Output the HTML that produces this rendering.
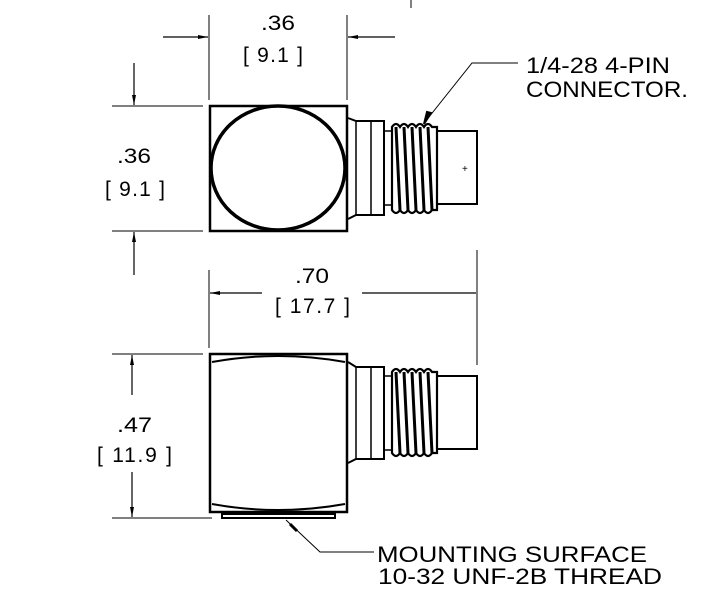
<!DOCTYPE html>
<html><head><style>body{margin:0;background:#fff}</style></head><body>
<svg width="701" height="600" viewBox="0 0 701 600" xmlns="http://www.w3.org/2000/svg" font-family="Liberation Sans, sans-serif">
<defs><marker id="a" markerWidth="10" markerHeight="6" refX="10" refY="3" orient="auto" markerUnits="userSpaceOnUse"><path d="M0,1 L10,3 L0,5z" fill="#000"/></marker></defs>
<g stroke="#000" fill="none">
<line x1="411" y1="0" x2="411" y2="8" stroke-width="1"/>
<line x1="209" y1="15" x2="209" y2="100" stroke-width="1"/>
<line x1="347" y1="15" x2="347" y2="100" stroke-width="1"/>
<line x1="163" y1="37" x2="208" y2="37" stroke-width="1.2" marker-end="url(#a)"/>
<line x1="395" y1="37" x2="348" y2="37" stroke-width="1.2" marker-end="url(#a)"/>
<line x1="112" y1="106" x2="203" y2="106" stroke-width="1"/>
<line x1="112" y1="231" x2="203" y2="231" stroke-width="1"/>
<line x1="134" y1="63" x2="134" y2="105" stroke-width="1.2" marker-end="url(#a)"/>
<line x1="134" y1="275" x2="134" y2="232" stroke-width="1.2" marker-end="url(#a)"/>
<rect x="210" y="106" width="137" height="125" stroke-width="2.5"/>
<ellipse cx="278" cy="168" rx="67" ry="62" stroke-width="3.5"/>
<path d="M348,118 L356,121 L384,121 L384,215 L356,215 L348,219" stroke-width="2"/>
<line x1="356" y1="121" x2="356" y2="215" stroke-width="1.5"/>
<line x1="371" y1="121" x2="371" y2="215" stroke-width="1.5"/>
<rect x="384" y="131" width="8" height="74" stroke-width="1.5"/>
<rect x="437" y="131" width="40" height="73" stroke-width="2"/>
<text x="462" y="172" font-size="10" fill="#000" stroke="none">+</text>
<line x1="209" y1="270" x2="209" y2="348" stroke-width="1"/>
<line x1="477" y1="250" x2="477" y2="365" stroke-width="1"/>
<line x1="262" y1="293" x2="210" y2="293" stroke-width="1.2" marker-end="url(#a)"/>
<line x1="362" y1="293" x2="476" y2="293" stroke-width="1.2"/>
<line x1="112" y1="354" x2="203" y2="354" stroke-width="1"/>
<line x1="112" y1="518" x2="212" y2="518" stroke-width="1"/>
<line x1="132" y1="395" x2="132" y2="355" stroke-width="1.2" marker-end="url(#a)"/>
<line x1="132" y1="472" x2="132" y2="517" stroke-width="1.2" marker-end="url(#a)"/>
<rect x="210" y="354" width="137" height="158" stroke-width="2.5"/>
<path d="M212,362 Q278,350 345,362 M212,504 Q278,516 345,504" stroke-width="2"/>
<rect x="222" y="514" width="113" height="4" stroke-width="2"/>
<path d="M348,362 L356,367 L384,367 L384,459 L356,459 L348,463" stroke-width="2"/>
<line x1="356" y1="367" x2="356" y2="459" stroke-width="1.5"/>
<line x1="371" y1="367" x2="371" y2="459" stroke-width="1.5"/>
<rect x="384" y="376" width="8" height="74" stroke-width="1.5"/>
<rect x="437" y="376" width="40" height="73" stroke-width="2"/>
<polyline points="518,63 472,63 425,122" stroke-width="1" />
<path d="M431,113 L424,124 L427,112z" fill="#000" stroke-width="2"/>
<polyline points="374,552 320,552 286,520" stroke-width="1"/>
<path d="M290,524 L297,531" stroke-width="3"/>
</g>
<g stroke="#000" stroke-width="2.2" fill="none">
<path d="M392,127 Q396,121 400,127 Q404,121 408,127 Q412,121 416,127 Q420,121 424,127 Q428,121 432,127 L437,127 L437,210 L432,210 Q428,216 424,210 Q420,216 416,210 Q412,216 408,210 Q404,216 400,210 Q396,216 392,210 Z"/>
<path d="M396,127 L400,210 M404,127 L408,210 M412,127 L416,210 M420,127 L424,210 M428,127 L432,210" stroke-width="3"/>
<path d="M392,372 Q396,366 400,372 Q404,366 408,372 Q412,366 416,372 Q420,366 424,372 Q428,366 432,372 L437,372 L437,453 L432,453 Q428,459 424,453 Q420,459 416,453 Q412,459 408,453 Q404,459 400,453 Q396,459 392,453 Z"/>
<path d="M396,372 L400,453 M404,372 L408,453 M412,372 L416,453 M420,372 L424,453 M428,372 L432,453" stroke-width="3"/>
</g>
<g fill="#000" font-size="21">
<text x="261" y="30" textLength="34" lengthAdjust="spacingAndGlyphs">.36</text>
<text x="243" y="62" textLength="60" lengthAdjust="spacing">[ 9.1 ]</text>
<text x="117" y="163" textLength="34" lengthAdjust="spacingAndGlyphs">.36</text>
<text x="105" y="196" textLength="60" lengthAdjust="spacing">[ 9.1 ]</text>
<text x="295" y="283" textLength="34" lengthAdjust="spacingAndGlyphs">.70</text>
<text x="275" y="313" textLength="75" lengthAdjust="spacing">[ 17.7 ]</text>
<text x="117" y="432" textLength="35" lengthAdjust="spacingAndGlyphs">.47</text>
<text x="97" y="462" textLength="75" lengthAdjust="spacing">[ 11.9 ]</text>
</g>
<g fill="#000" font-size="22">
<text x="526" y="73" textLength="144" lengthAdjust="spacingAndGlyphs">1/4-28 4-PIN</text>
<text x="526" y="97" textLength="162" lengthAdjust="spacingAndGlyphs">CONNECTOR.</text>
<text x="377" y="562" textLength="270" lengthAdjust="spacingAndGlyphs">MOUNTING SURFACE</text>
<text x="378" y="584" textLength="284" lengthAdjust="spacingAndGlyphs">10-32 UNF-2B THREAD</text>
</g>
</svg>
</body></html>
